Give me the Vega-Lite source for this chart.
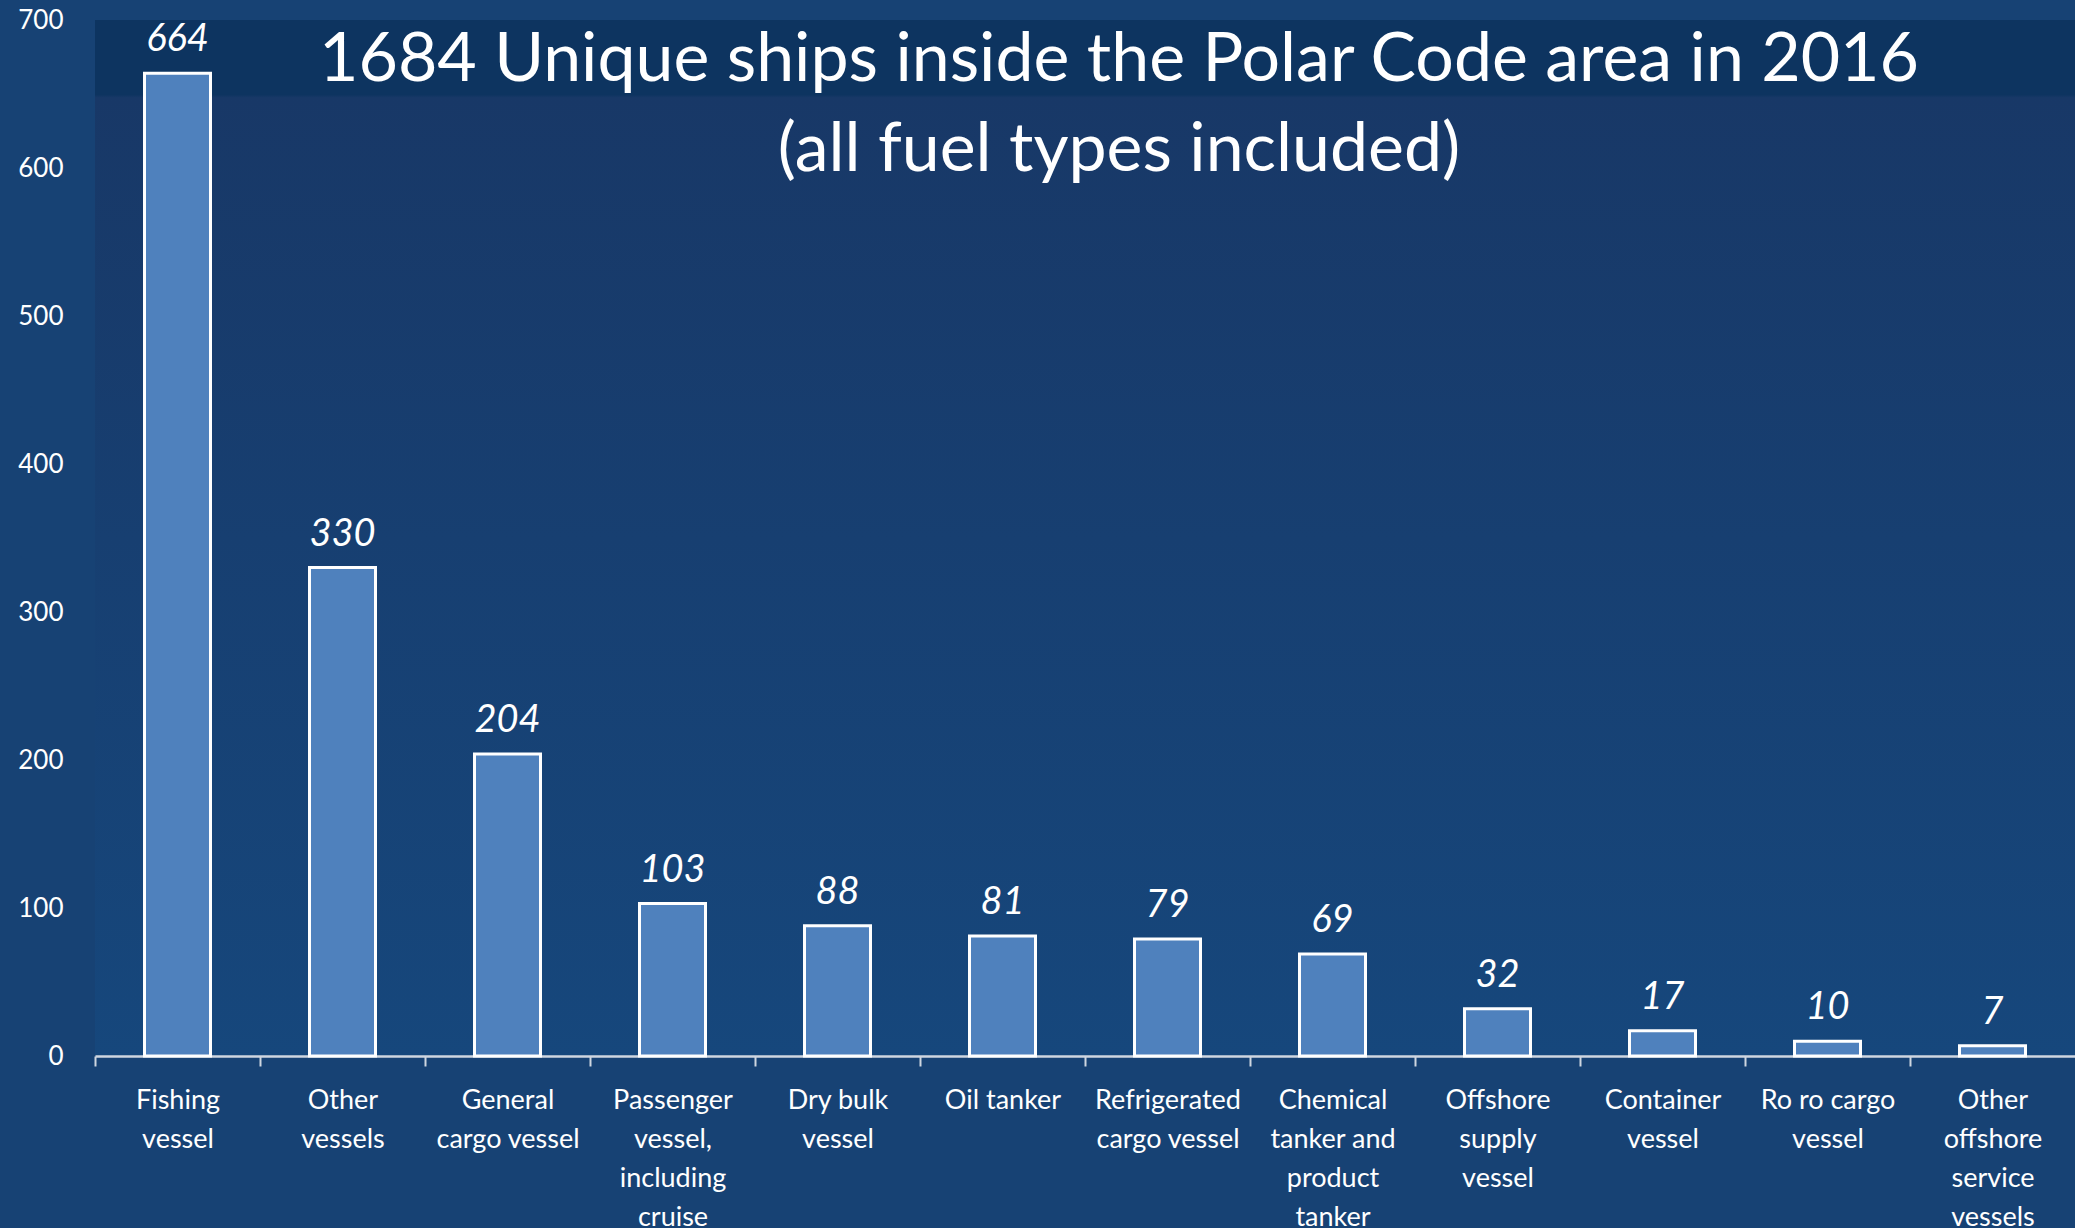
{
  "$schema": "https://vega.github.io/schema/vega-lite/v6.json",
  "width": 1980,
  "height": 1036,
  "autosize": {"type": "none"},
  "padding": {"left": 95, "top": 20, "right": 0, "bottom": 172},
  "background": "#174274",
  "config": {
    "view": {"stroke": null, "fill": {"gradient": "linear", "x1": 0, "y1": 0, "x2": 0, "y2": 1, "stops": [{"offset": 0, "color": "#0d3460"}, {"offset": 0.072, "color": "#0d3460"}, {"offset": 0.075, "color": "#183867"}, {"offset": 0.5, "color": "#173f71"}, {"offset": 1, "color": "#16477c"}]}},
    "font": "Lato"
  },
  "title": {
    "text": ["1684 Unique ships inside the Polar Code area in 2016", "(all fuel types included)"],
    "color": "white",
    "font": "Lato",
    "fontSize": 68,
    "fontWeight": "normal",
    "lineHeight": 90,
    "anchor": "middle",
    "frame": "group",
    "dx": 34,
    "baseline": "top",
    "offset": -178
  },
  "data": {
    "values": [
      {"type": "Fishing vessel", "ships": 664},
      {"type": "Other vessels", "ships": 330},
      {"type": "General cargo vessel", "ships": 204},
      {"type": "Passenger vessel, including cruise", "ships": 103},
      {"type": "Dry bulk vessel", "ships": 88},
      {"type": "Oil tanker", "ships": 81},
      {"type": "Refrigerated cargo vessel", "ships": 79},
      {"type": "Chemical tanker and product tanker", "ships": 69},
      {"type": "Offshore supply vessel", "ships": 32},
      {"type": "Container vessel", "ships": 17},
      {"type": "Ro ro cargo vessel", "ships": 10},
      {"type": "Other offshore service vessels", "ships": 7}
    ]
  },
  "encoding": {
    "x": {
      "field": "type",
      "type": "nominal",
      "sort": null,
      "scale": {"paddingInner": 0.6, "paddingOuter": 0.3},
      "axis": {
        "title": null,
        "labelAngle": 0,
        "labelColor": "white",
        "labelFont": "Lato",
        "labelFontSize": 27,
        "labelLineHeight": 39,
        "labelBaseline": "top",
        "labelPadding": 21,
        "labelLimit": 300,
        "domainColor": "#cfd6e0",
        "domainWidth": 2.5,
        "tickColor": "#cfd6e0",
        "tickWidth": 2,
        "tickSize": 10,
        "tickOffset": -82.5,
        "labelOffset": 82.5,
        "labelExpr": "{'Fishing vessel':['Fishing','vessel'],'Other vessels':['Other','vessels'],'General cargo vessel':['General','cargo vessel'],'Passenger vessel, including cruise':['Passenger','vessel,','including','cruise'],'Dry bulk vessel':['Dry bulk','vessel'],'Oil tanker':['Oil tanker'],'Refrigerated cargo vessel':['Refrigerated','cargo vessel'],'Chemical tanker and product tanker':['Chemical','tanker and','product','tanker'],'Offshore supply vessel':['Offshore','supply','vessel'],'Container vessel':['Container','vessel'],'Ro ro cargo vessel':['Ro ro cargo','vessel'],'Other offshore service vessels':['Other','offshore','service','vessels']}[datum.label]"
      }
    },
    "y": {
      "field": "ships",
      "type": "quantitative",
      "scale": {"domain": [0, 700]},
      "axis": {
        "title": null,
        "values": [0, 100, 200, 300, 400, 500, 600, 700],
        "grid": false,
        "domain": false,
        "ticks": false,
        "labelColor": "white",
        "labelFont": "Lato",
        "labelFontSize": 26,
        "labelPadding": 32
      }
    }
  },
  "layer": [
    {
      "mark": {"type": "bar", "fill": "#4f81bd", "stroke": "white", "strokeWidth": 3}
    },
    {
      "mark": {"type": "text", "color": "white", "font": "Lato", "fontStyle": "italic", "fontSize": 38, "baseline": "bottom", "dy": -14},
      "encoding": {"text": {"field": "ships", "type": "quantitative"}}
    }
  ]
}
